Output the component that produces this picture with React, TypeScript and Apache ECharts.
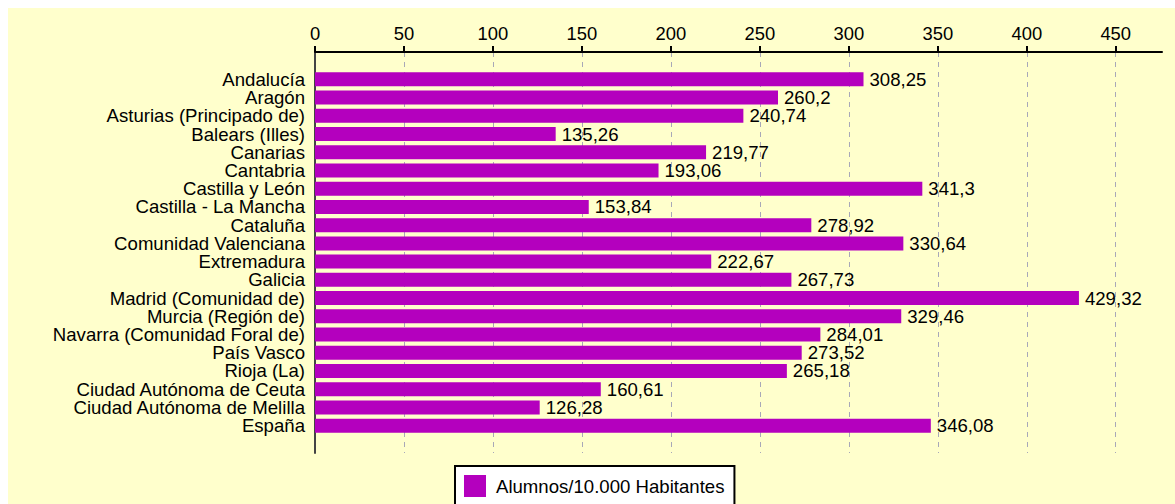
import React, { useEffect, useRef } from "react";
import * as echarts from "echarts";

const categories = [
  "Andalucía",
  "Aragón",
  "Asturias (Principado de)",
  "Balears (Illes)",
  "Canarias",
  "Cantabria",
  "Castilla y León",
  "Castilla - La Mancha",
  "Cataluña",
  "Comunidad Valenciana",
  "Extremadura",
  "Galicia",
  "Madrid (Comunidad de)",
  "Murcia (Región de)",
  "Navarra (Comunidad Foral de)",
  "País Vasco",
  "Rioja (La)",
  "Ciudad Autónoma de Ceuta",
  "Ciudad Autónoma de Melilla",
  "España",
];

const values = [
  308.25, 260.2, 240.74, 135.26, 219.77, 193.06, 341.3, 153.84, 278.92, 330.64,
  222.67, 267.73, 429.32, 329.46, 284.01, 273.52, 265.18, 160.61, 126.28, 346.08,
];

const seriesName = "Alumnos/10.000 Habitantes";
const xTicks = [0, 50, 100, 150, 200, 250, 300, 350, 400, 450];

const FONT = "'Liberation Sans', Arial, sans-serif";
const FS = 18.6;

export default function App() {
  const ref = useRef<HTMLDivElement>(null);

  useEffect(() => {
    if (!ref.current) return;
    const chart = echarts.init(ref.current, null, { renderer: "svg" });
    const yCats = [" ", ...categories, "  "];
    const yData = ["-", ...values, "-"];
    chart.setOption({
      animation: false,
      backgroundColor: "#ffffcc",
      textStyle: { fontFamily: FONT },
      grid: { left: 307, top: 44, right: 13, bottom: 51, containLabel: false },
      xAxis: {
        type: "value",
        position: "top",
        min: 0,
        max: 476,
        interval: 50,
        axisLine: { show: true, lineStyle: { color: "#000", width: 2 } },
        axisTick: {
          show: true,
          length: 6,
          lineStyle: { color: "#000", width: 2 },
          customValues: xTicks,
        },
        axisLabel: {
          fontSize: 18.4,
          color: "#000",
          fontFamily: FONT,
          margin: 10,
          customValues: xTicks,
        },
        splitLine: {
          show: true,
          lineStyle: { color: "#a8a8b8", type: [5, 5], width: 1 },
        },
      },
      yAxis: {
        type: "category",
        inverse: true,
        data: yCats,
        axisLine: { show: true, lineStyle: { color: "#444", width: 2 } },
        axisTick: { show: false },
        axisLabel: {
          fontSize: FS,
          lineHeight: 17,
          color: "#000",
          fontFamily: FONT,
          margin: 10,
          interval: 0,
        },
        splitLine: { show: false },
      },
      legend: {
        show: true,
        left: 447,
        top: 458,
        orient: "horizontal",
        icon: "rect",
        itemWidth: 22,
        itemHeight: 22,
        backgroundColor: "#ffffff",
        borderColor: "#000",
        borderWidth: 2,
        padding: [9, 10, 9, 9],
        textStyle: { fontSize: FS, color: "#000", fontFamily: FONT, padding: [0, 0, 0, 5] },
        data: [seriesName],
      },
      series: [
        {
          name: seriesName,
          type: "bar",
          data: yData,
          barWidth: 14,
          itemStyle: { color: "#b400be" },
          label: {
            show: true,
            position: "right",
            distance: 6,
            fontSize: FS,
            lineHeight: 17,
            color: "#000",
            fontFamily: FONT,
            formatter: (p: any) => String(p.value).replace(".", ","),
          },
        },
      ],
    });
    return () => chart.dispose();
  }, []);

  return (
    <div
      ref={ref}
      style={{ position: "absolute", left: 8, top: 8, width: 1167, height: 496 }}
    />
  );
}
